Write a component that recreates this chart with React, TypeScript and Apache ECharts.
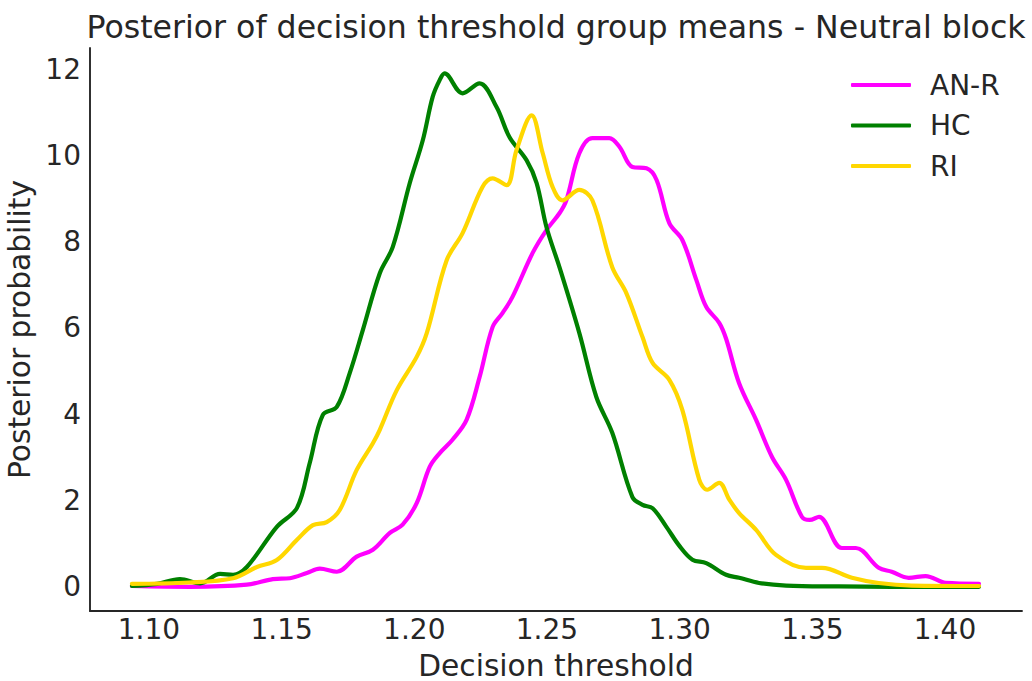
import React, { useEffect, useRef } from "react";
import * as echarts from "echarts";

const seriesNames = ["AN-R", "HC", "RI"];
const seriesColors = ["#ff00ff", "#008000", "#ffd700"];

const anrData: [number, number][] = [
  [1.0936, 0.02], [1.1155, 0.0], [1.1369, 0.05], [1.1467, 0.18], [1.1531, 0.2],
  [1.1595, 0.32], [1.1644, 0.42], [1.1708, 0.35], [1.1783, 0.7], [1.1844, 0.86],
  [1.1908, 1.25], [1.1956, 1.44], [1.2009, 1.94], [1.2058, 2.78], [1.2096, 3.1],
  [1.2144, 3.41], [1.2197, 3.87], [1.2246, 4.86], [1.2295, 6.02], [1.2333, 6.35],
  [1.237, 6.72], [1.2446, 7.74], [1.2498, 8.27], [1.2547, 8.66], [1.2573, 8.96],
  [1.2622, 10.05], [1.2671, 10.4], [1.2735, 10.4], [1.2773, 10.2], [1.2822, 9.73],
  [1.2875, 9.7], [1.2913, 9.43], [1.2961, 8.43], [1.301, 8.04], [1.3063, 7.11],
  [1.31, 6.49], [1.3149, 6.12], [1.3175, 5.75], [1.3224, 4.72], [1.3288, 3.87],
  [1.3348, 3.01], [1.3401, 2.48], [1.3461, 1.62], [1.349, 1.55], [1.3525, 1.62],
  [1.3611, 0.9], [1.3664, 0.9], [1.375, 0.44], [1.3799, 0.35], [1.3863, 0.21],
  [1.3927, 0.25], [1.4003, 0.09], [1.4128, 0.07],
];

const hcData: [number, number][] = [
  [1.0936, 0.02], [1.1031, 0.07], [1.1117, 0.18], [1.1193, 0.08], [1.1268, 0.3],
  [1.1317, 0.28], [1.1369, 0.46], [1.1482, 1.39], [1.1558, 1.83], [1.1606, 2.87],
  [1.1655, 3.98], [1.1708, 4.17], [1.1757, 4.96], [1.1806, 5.95], [1.187, 7.27],
  [1.1919, 7.88], [1.1983, 9.36], [1.2032, 10.35], [1.2069, 11.35], [1.2096, 11.75],
  [1.2114, 11.9], [1.2182, 11.44], [1.2246, 11.67], [1.231, 11.12], [1.2359, 10.42],
  [1.2423, 9.89], [1.2461, 9.36], [1.2498, 8.34], [1.2547, 7.41], [1.2622, 5.88],
  [1.2686, 4.4], [1.2746, 3.57], [1.2822, 2.08], [1.286, 1.9], [1.2898, 1.82],
  [1.295, 1.39], [1.2999, 0.95], [1.3048, 0.63], [1.31, 0.55], [1.3175, 0.28],
  [1.3224, 0.21], [1.3299, 0.09], [1.3401, 0.03], [1.36, 0.01], [1.38, 0.0],
  [1.4128, 0.0],
];

const riData: [number, number][] = [
  [1.0936, 0.07], [1.115, 0.1], [1.1317, 0.2], [1.1407, 0.46], [1.1482, 0.62],
  [1.1558, 1.09], [1.1618, 1.43], [1.167, 1.5], [1.1719, 1.78], [1.1783, 2.71],
  [1.1844, 3.33], [1.187, 3.64], [1.1934, 4.56], [1.2009, 5.33], [1.2047, 5.88],
  [1.2122, 7.57], [1.2182, 8.2], [1.2257, 9.27], [1.2295, 9.47], [1.2348, 9.31],
  [1.2385, 10.12], [1.2442, 10.93], [1.2484, 10.05], [1.2521, 9.27], [1.2558, 8.96],
  [1.2622, 9.2], [1.2671, 8.96], [1.2746, 7.41], [1.2799, 6.81], [1.286, 5.79],
  [1.2898, 5.19], [1.2961, 4.8], [1.301, 4.1], [1.3074, 2.48], [1.3104, 2.25],
  [1.3149, 2.41], [1.3187, 2.02], [1.3224, 1.71], [1.3288, 1.32], [1.3363, 0.74],
  [1.3476, 0.44], [1.3536, 0.44], [1.3649, 0.21], [1.375, 0.09], [1.3875, 0.03],
  [1.4128, 0.02],
];

const xTicks = [1.1, 1.15, 1.2, 1.25, 1.3, 1.35, 1.4];
const yTicks = [0, 2, 4, 6, 8, 10, 12];

const titleText = "Posterior of decision threshold group means - Neutral block";
const xLabel = "Decision threshold";
const yLabel = "Posterior probability";

export default function App() {
  const ref = useRef<HTMLDivElement>(null);
  useEffect(() => {
    if (!ref.current) return;
    const chart = echarts.init(ref.current, null, { renderer: "svg" });
    const font = "DejaVu Sans";
    const textColor = "#262626";
    const datasets = [anrData, hcData, riData];
    chart.setOption({
      animation: false,
      backgroundColor: "#ffffff",
      textStyle: { fontFamily: font },
      graphic: [
        {
          type: "text",
          x: 556,
          y: 27,
          style: {
            text: titleText,
            fontFamily: font,
            fontSize: 31.6,
            fill: textColor,
            textAlign: "center",
            textVerticalAlign: "middle",
          },
        },
      ],
      legend: {
        orient: "vertical",
        left: 846,
        top: 65,
        icon: "roundRect",
        itemWidth: 60,
        itemHeight: 4,
        itemGap: 10.5,
        data: seriesNames,
        textStyle: {
          fontFamily: font,
          fontSize: 28,
          color: textColor,
          lineHeight: 30,
          height: 30,
          padding: [0, 0, 0, 14],
        },
      },
      grid: { left: 90, right: 10, top: 48, bottom: 70, containLabel: false, outerBoundsMode: "none" },
      xAxis: {
        type: "value",
        min: 1.0778,
        max: 1.429,
        name: xLabel,
        nameLocation: "middle",
        nameGap: 39,
        nameTextStyle: { fontFamily: font, fontSize: 29.7, color: textColor },
        axisLine: { show: true, onZero: false, lineStyle: { color: textColor, width: 1.9 } },
        axisTick: { show: false },
        splitLine: { show: false },
        axisLabel: {
          customValues: xTicks,
          formatter: (v: number) => v.toFixed(2),
          fontFamily: font,
          fontSize: 28,
          color: textColor,
          margin: 4,
        },
      },
      yAxis: {
        type: "value",
        min: -0.56,
        max: 12.49,
        name: yLabel,
        nameLocation: "middle",
        nameGap: 46,
        nameTextStyle: { fontFamily: font, fontSize: 29.7, color: textColor },
        axisLine: { show: true, onZero: false, lineStyle: { color: textColor, width: 1.9 } },
        axisTick: { show: false },
        splitLine: { show: false },
        axisLabel: {
          customValues: yTicks,
          formatter: (v: number) => String(v),
          fontFamily: font,
          fontSize: 28,
          color: textColor,
          margin: 9,
        },
      },
      series: seriesNames.map((name, i) => ({
        name,
        type: "line",
        data: datasets[i],
        smooth: 0.35,
        symbol: "none",
        showSymbol: false,
        color: seriesColors[i],
        lineStyle: { color: seriesColors[i], width: 4.2, cap: "round", join: "round" },
        z: 2 + i,
      })),
    });
    return () => chart.dispose();
  }, []);
  return (
    <div
      ref={ref}
      style={{ position: "absolute", left: 0, top: 0, width: 1032, height: 681 }}
    />
  );
}
